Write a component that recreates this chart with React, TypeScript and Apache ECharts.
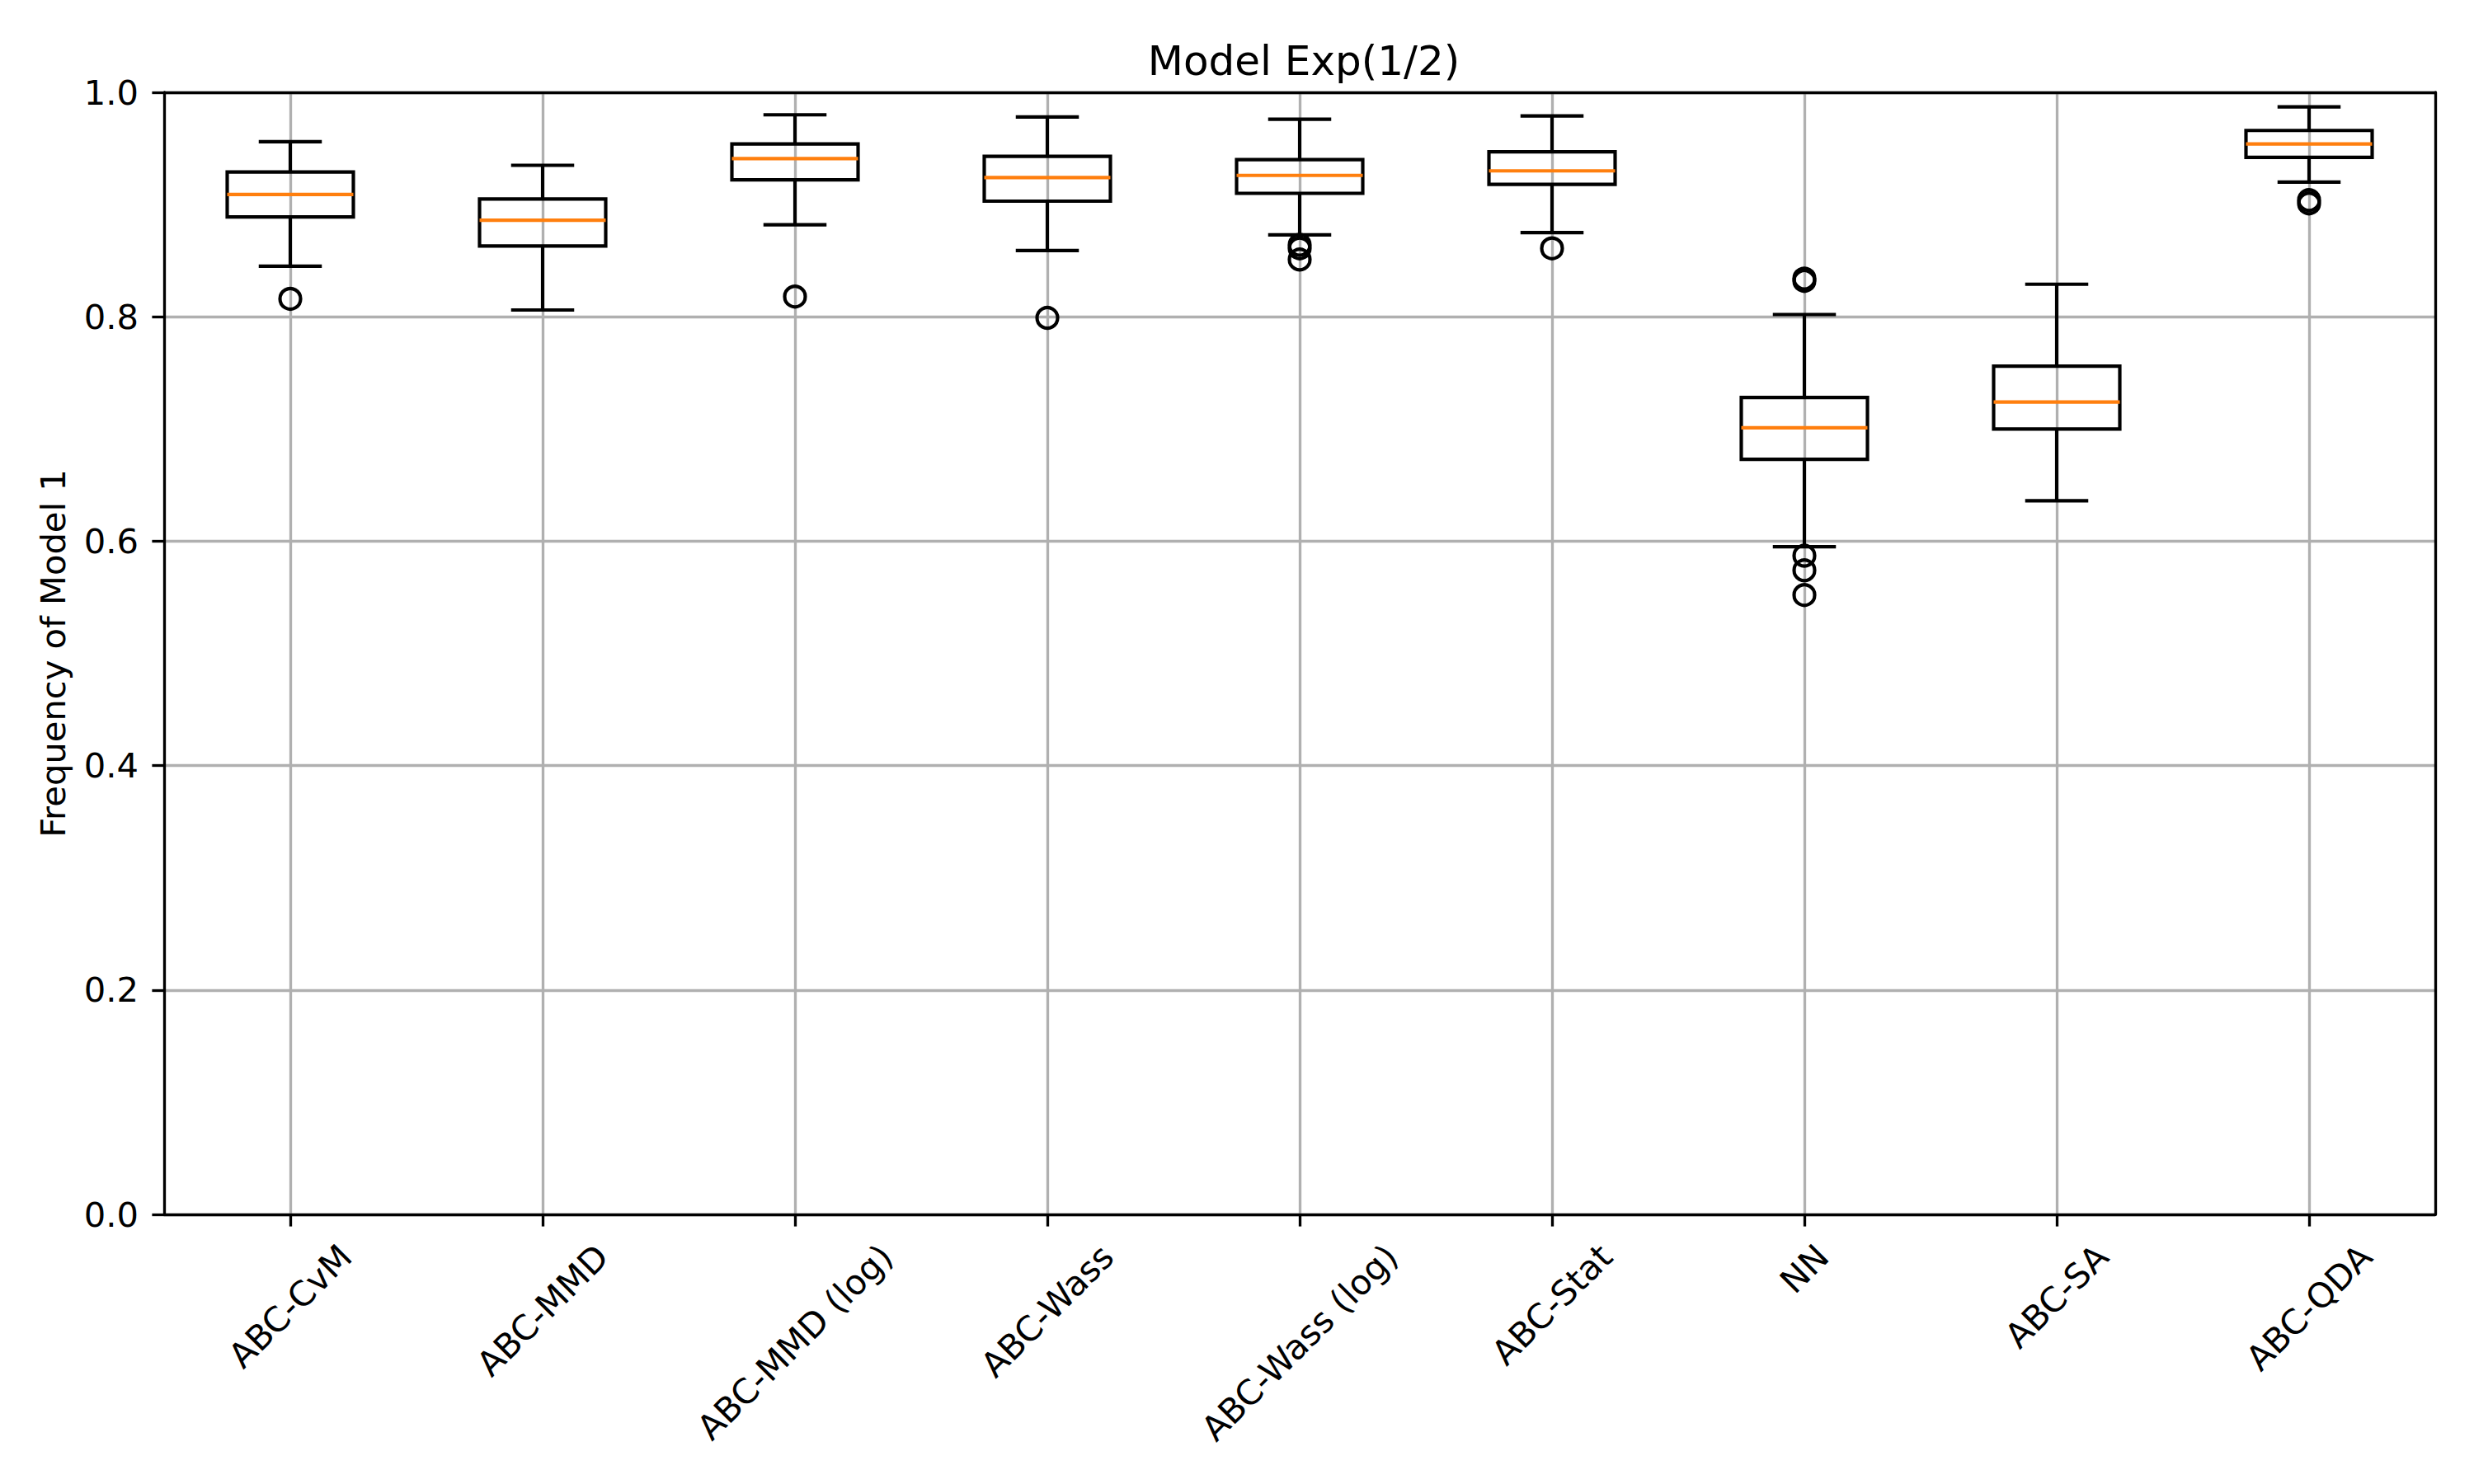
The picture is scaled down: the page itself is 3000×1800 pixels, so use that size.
import React, { useEffect, useRef } from "react";
import * as echarts from "echarts";

const categories = [
  "ABC-CvM",
  "ABC-MMD",
  "ABC-MMD (log)",
  "ABC-Wass",
  "ABC-Wass (log)",
  "ABC-Stat",
  "NN",
  "ABC-SA",
  "ABC-QDA",
];
// [lower whisker, Q1, median, Q3, upper whisker]
const whiskerLow = [0.845, 0.806, 0.882, 0.859, 0.873, 0.875, 0.595, 0.636, 0.92];
const q1 = [0.889, 0.863, 0.922, 0.903, 0.91, 0.918, 0.673, 0.7, 0.942];
const median = [0.909, 0.886, 0.941, 0.924, 0.926, 0.93, 0.701, 0.724, 0.954];
const q3 = [0.929, 0.905, 0.954, 0.943, 0.94, 0.947, 0.728, 0.756, 0.966];
const whiskerHigh = [0.956, 0.935, 0.98, 0.978, 0.976, 0.979, 0.802, 0.829, 0.987];
const outliers: number[][] = [
  [0.816],
  [],
  [0.818],
  [0.799],
  [0.864, 0.861, 0.851],
  [0.861],
  [0.834, 0.832, 0.587, 0.574, 0.552],
  [],
  [0.904, 0.901],
];
const yTicks = [0, 0.2, 0.4, 0.6, 0.8, 1.0];

const FONT = "DejaVu Sans";
const FS = 41.67;
const LW = 4.17;
const SPINE = 3.33;

export default function App() {
  const ref = useRef<HTMLDivElement>(null);
  useEffect(() => {
    document.body.style.margin = "0";
    if (!ref.current) return;
    const chart = echarts.init(ref.current, null, { renderer: "svg" });

    const boxData = categories.map((_, i) => [
      i,
      whiskerLow[i],
      q1[i],
      median[i],
      q3[i],
      whiskerHigh[i],
    ]);
    const flierData: number[][] = [];
    outliers.forEach((arr, i) => arr.forEach((v) => flierData.push([i, v])));

    const lineStyle = { stroke: "#000", lineWidth: LW };

    chart.setOption({
      animation: false,
      backgroundColor: "#fff",
      title: {
        text: "Model Exp(1/2)",
        left: 1576,
        top: 44,
        textAlign: "center",
        textStyle: {
          fontFamily: FONT,
          fontSize: 50,
          fontWeight: "normal",
          color: "#000",
          lineHeight: 50,
        },
      },
      grid: { left: 199, right: 47, top: 112, bottom: 327, outerBoundsMode: "none" },
      xAxis: [
        {
          type: "category",
          data: categories,
          boundaryGap: true,
          axisLine: { show: true, onZero: false, lineStyle: { color: "#000", width: SPINE } },
          axisTick: { show: true, alignWithLabel: true, length: 14.6, lineStyle: { color: "#000", width: SPINE } },
          axisLabel: { show: false, interval: 0 },
          splitLine: { show: true, alignWithLabel: true, lineStyle: { color: "#b0b0b0", width: SPINE } },
          z: 6,
        },
        {
          type: "category",
          data: categories,
          position: "top",
          axisLine: { show: true, onZero: false, lineStyle: { color: "#000", width: SPINE } },
          axisTick: { show: false },
          axisLabel: { show: false },
          splitLine: { show: false },
          z: 7,
        },
      ],
      yAxis: [
        {
          type: "value",
          min: 0,
          max: 1,
          interval: 0.2,
          name: "Frequency of Model 1",
          nameLocation: "middle",
          nameRotate: 90,
          nameGap: 110,
          nameMoveOverlap: false,
          nameTextStyle: { fontFamily: FONT, fontSize: FS, color: "#000", lineHeight: 50 },
          axisLine: { show: true, onZero: false, lineStyle: { color: "#000", width: SPINE } },
          axisTick: { show: true, length: 14.6, lineStyle: { color: "#000", width: SPINE } },
          axisLabel: {
            margin: 31,
            fontFamily: FONT,
            fontSize: FS,
            color: "#000",
            formatter: (v: number) => v.toFixed(1),
            customValues: yTicks,
          },
          splitLine: { show: true, lineStyle: { color: "#b0b0b0", width: SPINE } },
          z: 2,
        },
        {
          type: "value",
          min: 0,
          max: 1,
          position: "right",
          axisLine: { show: true, onZero: false, lineStyle: { color: "#000", width: SPINE } },
          axisTick: { show: false },
          axisLabel: { show: false },
          splitLine: { show: false },
          z: 7,
        },
      ],
      series: [
        {
          type: "custom",
          xAxisIndex: 0,
          yAxisIndex: 0,
          data: boxData,
          encode: { x: 0, y: [1, 2, 3, 4, 5] },
          z: 8,
          renderItem: (params: any, api: any) => {
            const i = api.value(0);
            const band = api.size([1, 0])[0];
            const half = band * 0.25;
            const capHalf = band * 0.125;
            const pLo = api.coord([i, api.value(1)]);
            const pQ1 = api.coord([i, api.value(2)]);
            const pMed = api.coord([i, api.value(3)]);
            const pQ3 = api.coord([i, api.value(4)]);
            const pHi = api.coord([i, api.value(5)]);
            const cx = pMed[0];
            return {
              type: "group",
              children: [
                { type: "line", shape: { x1: cx, y1: pQ1[1], x2: cx, y2: pLo[1] }, style: lineStyle },
                { type: "line", shape: { x1: cx, y1: pQ3[1], x2: cx, y2: pHi[1] }, style: lineStyle },
                { type: "line", shape: { x1: cx - capHalf, y1: pLo[1], x2: cx + capHalf, y2: pLo[1] }, style: lineStyle },
                { type: "line", shape: { x1: cx - capHalf, y1: pHi[1], x2: cx + capHalf, y2: pHi[1] }, style: lineStyle },
                {
                  type: "rect",
                  shape: { x: cx - half, y: pQ3[1], width: half * 2, height: pQ1[1] - pQ3[1] },
                  style: { fill: "none", stroke: "#000", lineWidth: LW },
                },
                {
                  type: "line",
                  shape: { x1: cx - half, y1: pMed[1], x2: cx + half, y2: pMed[1] },
                  style: { stroke: "#ff7f0e", lineWidth: LW },
                },
              ],
            };
          },
        },
        {
          type: "scatter",
          xAxisIndex: 0,
          yAxisIndex: 0,
          data: flierData,
          symbol: "circle",
          symbolSize: 25,
          z: 9,
          itemStyle: { color: "rgba(0,0,0,0)", borderColor: "#000", borderWidth: LW, opacity: 1 },
        },
      ],
    });

    // Rotated category labels, centred under each tick like matplotlib's rotation=45
    const ctx = document.createElement("canvas").getContext("2d")!;
    ctx.font = `${FS}px "${FONT}"`;
    const h = 42;
    const axisY = chart.convertToPixel({ yAxisIndex: 0 }, 0) as number;
    const labels = categories.map((c) => {
      const x = chart.convertToPixel({ xAxisIndex: 0 }, c) as number;
      const w = ctx.measureText(c).width;
      const cy = axisY + 29.2 + (w + h) * Math.SQRT1_2 * 0.5;
      return {
        type: "text",
        x,
        y: cy,
        rotation: Math.PI / 4,
        silent: true,
        style: {
          text: c,
          align: "center",
          verticalAlign: "middle",
          fontFamily: FONT,
          fontSize: FS,
          fill: "#000",
        },
      };
    });
    chart.setOption({ graphic: labels });

    return () => chart.dispose();
  }, []);
  return <div ref={ref} style={{ width: 3000, height: 1800 }} />;
}
